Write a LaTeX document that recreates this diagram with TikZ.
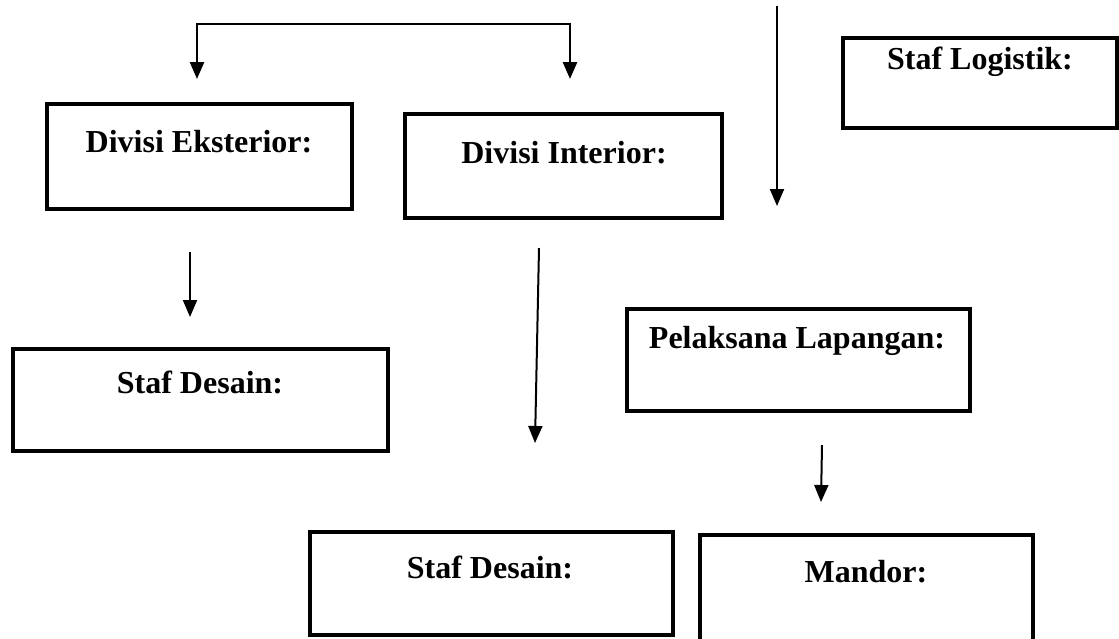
\documentclass[tikz,border=0pt]{standalone}
\usepackage{fontspec}
\setmainfont{Liberation Serif}
\usetikzlibrary{arrows.meta,positioning}

\tikzset{
  box/.style={draw, line width=2pt},
  title/.style={font=\fontsize{16}{19}\selectfont\bfseries, inner sep=0pt},
  arr/.style={line width=1pt, -{Triangle[width=7pt,length=8.5pt]}}
}

\begin{document}
\begin{tikzpicture}[x=0.5pt,y=-0.5pt]
\useasboundingbox (0,0) rectangle (1119,638);
% kotak-kotak
\coordinate (eksA) at (47,104);
\coordinate (eksB) at (352,209);
\coordinate (intA) at (405,114);
\coordinate (intB) at (722,218);
\coordinate (logA) at (843,38);
\coordinate (logB) at (1117,128);
\coordinate (dsnA) at (13,349);
\coordinate (dsnB) at (388,451);
\coordinate (plkA) at (627,309);
\coordinate (plkB) at (970,411);
\coordinate (dsbA) at (310,532);
\coordinate (dsbB) at (673,635);
\coordinate (mdrA) at (700,535);
\coordinate (mdrB) at (1033,650);
\draw[box] (eksA) rectangle (eksB);
\draw[box] (intA) rectangle (intB);
\draw[box] (logA) rectangle (logB);
\draw[box] (dsnA) rectangle (dsnB);
\draw[box] (plkA) rectangle (plkB);
\draw[box] (dsbA) rectangle (dsbB);
\draw[box] (mdrA) rectangle (mdrB);
\node[title] (eks) at (199,142) {Divisi Eksterior:};
\node[title] (int) at (564,153) {Divisi Interior:};
\node[title] (log) at (980,62) {Staf Logistik:};
\node[title] (dsn) at (200,382) {Staf Desain:};
\node[title] (plk) at (797,341) {Pelaksana Lapangan:};
\node[title] (dsb) at (490,567) {Staf Desain:};
\node[title] (mdr) at (866,572) {Mandor:};
% panah
\coordinate (brL) at (197,24);
\coordinate (brR) at (570,24);
\coordinate (brLtip) at (197,79);
\coordinate (brRtip) at (570,79);
\draw[line width=1.3pt, {Triangle[width=7pt,length=8.5pt]}-{Triangle[width=7pt,length=8.5pt]}]
  (brLtip) -- (brL) -- (brR) -- (brRtip);
\coordinate (logTop) at (777,6);
\coordinate (logTip) at (777,206);
\draw[arr] (logTop) -- (logTip);
\coordinate (eksTop) at (190,252);
\coordinate (eksTip) at (190,317);
\draw[arr] (eksTop) -- (eksTip);
\coordinate (intTop) at (539,248);
\coordinate (intTip) at (535,443);
\draw[arr] (intTop) -- (intTip);
\coordinate (plkTop) at (822,445);
\coordinate (plkTip) at (821,502);
\draw[arr] (plkTop) -- (plkTip);
\end{tikzpicture}
\end{document}
